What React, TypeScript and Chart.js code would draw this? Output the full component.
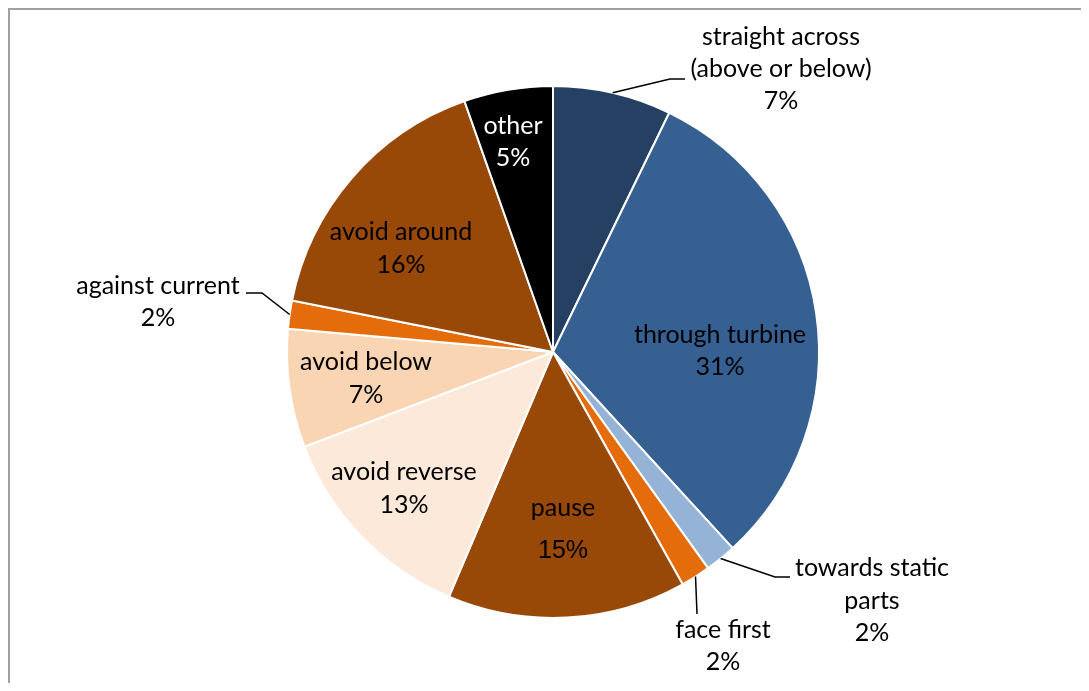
import React, { useEffect, useRef, useState } from "react";
import { Chart, registerables } from "chart.js";

Chart.register(...registerables);

const categories = [
  "straight across (above or below)",
  "through turbine",
  "towards static parts",
  "face first",
  "pause",
  "avoid reverse",
  "avoid below",
  "against current",
  "avoid around",
  "other",
];
const shares = [7.2, 31.0, 1.9, 1.8, 14.5, 12.8, 7.2, 1.7, 16.5, 5.4];
const labelLines = [
  ["straight across", "(above or below)", "7%"],
  ["through turbine", "31%"],
  ["towards static", "parts", "2%"],
  ["face first", "2%"],
  ["pause", "15%"],
  ["avoid reverse", "13%"],
  ["avoid below", "7%"],
  ["against current", "2%"],
  ["avoid around", "16%"],
  ["other", "5%"],
];
const colors = [
  "#264064",
  "#366092",
  "#95B3D7",
  "#E46C0A",
  "#984807",
  "#FDE9D9",
  "#FAD5B4",
  "#E46C0A",
  "#984807",
  "#000000",
];

// label layout (page pixel positions), not data
type Layout = {
  x: number;
  ys: number[];
  color?: string;
  leader?: number[][];
};
const layouts: Layout[] = [
  { x: 781, ys: [37, 69, 101], leader: [[670, 79], [685, 79]] },
  { x: 720, ys: [335, 367] },
  { x: 872, ys: [568, 601, 633], leader: [[775, 577], [790, 577]] },
  { x: 723, ys: [630, 662], leader: [[697, 614]] },
  { x: 563, ys: [508, 551] },
  { x: 404, ys: [472, 505] },
  { x: 366, ys: [362, 395] },
  { x: 158, ys: [286, 318], leader: [[262, 293], [246, 293]] },
  { x: 401, ys: [232, 265] },
  { x: 513, ys: [126, 158], color: "#ffffff" },
];

const labelPlugin = {
  id: "pieLabels",
  afterDatasetsDraw(chart: any) {
    const ctx = chart.ctx;
    const meta = chart.getDatasetMeta(0);
    ctx.save();
    meta.data.forEach((arc: any, i: number) => {
      const lay = layouts[i];
      const x = arc.x;
      const y = arc.y;
      const mid = (arc.startAngle + arc.endAngle) / 2;
      const r = arc.outerRadius;
      if (lay.leader) {
        ctx.beginPath();
        ctx.strokeStyle = "#000000";
        ctx.lineWidth = 1.5;
        ctx.moveTo(x + Math.cos(mid) * r, y + Math.sin(mid) * r);
        lay.leader.forEach((p) => ctx.lineTo(p[0], p[1]));
        ctx.stroke();
      }
      ctx.fillStyle = lay.color || "#000000";
      ctx.textAlign = "center";
      ctx.textBaseline = "middle";
      labelLines[i].forEach((t, j) => {
        if (i === 4 && j === 1) {
          ctx.font = "25px 'Liberation Sans', Arial, sans-serif";
        } else {
          ctx.font = "25px Lato, 'Open Sans', sans-serif";
        }
        ctx.fillText(t, lay.x, lay.ys[j]);
      });
    });
    ctx.restore();
  },
};

export default function App() {
  const ref = useRef<HTMLCanvasElement | null>(null);
  const [err, setErr] = useState("");
  useEffect(() => {
    if (!ref.current) return;
    let chart: Chart | null = null;
    try {
      chart = new Chart(ref.current, {
        type: "pie",
        data: {
          labels: categories,
          datasets: [
            {
              data: shares,
              backgroundColor: colors,
              borderColor: "#ffffff",
              borderWidth: 2,
              radius: 266,
            } as any,
          ],
        },
        options: {
          animation: false,
          responsive: false,
          maintainAspectRatio: false,
          layout: { padding: { left: 17, top: 13, right: 0, bottom: 0 } },
          plugins: {
            legend: { display: false },
            tooltip: { enabled: false },
          },
        } as any,
        plugins: [labelPlugin],
      });
    } catch (e: any) {
      setErr(String(e && e.message));
    }
    return () => {
      if (chart) chart.destroy();
    };
  }, []);
  return (
    <div
      style={{
        width: 1081,
        height: 675,
        borderTop: "2px solid #a0a0a0",
        borderLeft: "2px solid #a0a0a0",
        boxSizing: "border-box",
        overflow: "visible",
      }}
    >
      <canvas
        ref={ref}
        width={1089}
        height={691}
        style={{ display: "block", marginLeft: -10, marginTop: -10, width: 1089, height: 691 }}
      />
      {err ? <div>{err}</div> : null}
    </div>
  );
}
